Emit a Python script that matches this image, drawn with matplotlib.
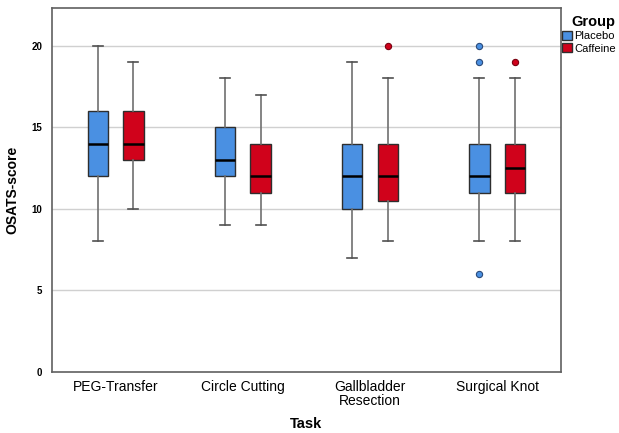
import numpy as np
import matplotlib.pyplot as plt
from matplotlib.patches import Patch

plt.rcParams['font.family'] = ['Liberation Sans', 'DejaVu Sans']

# values
tasks = ['PEG-Transfer', 'Circle Cutting', 'Gallbladder\nResection', 'Surgical Knot']
groups = ['Placebo', 'Caffeine']
colors = ['#4a90e2', '#d0021b']

placebo_whislo = [8, 9, 7, 8]
placebo_q1 = [12, 12, 10, 11]
placebo_med = [14, 13, 12, 12]
placebo_q3 = [16, 15, 14, 14]
placebo_whishi = [20, 18, 19, 18]
placebo_fliers = [[], [], [], [20, 19, 6]]

caffeine_whislo = [10, 9, 8, 8]
caffeine_q1 = [13, 11, 10.5, 11]
caffeine_med = [14, 12, 12, 12.5]
caffeine_q3 = [16, 14, 14, 14]
caffeine_whishi = [19, 17, 18, 18]
caffeine_fliers = [[], [], [20], [19]]


def make_stats(lo, q1, med, q3, hi, fl):
    return [dict(whislo=lo[i], q1=q1[i], med=med[i], q3=q3[i], whishi=hi[i], fliers=fl[i])
            for i in range(len(lo))]


stats = [
    make_stats(placebo_whislo, placebo_q1, placebo_med, placebo_q3, placebo_whishi, placebo_fliers),
    make_stats(caffeine_whislo, caffeine_q1, caffeine_med, caffeine_q3, caffeine_whishi, caffeine_fliers),
]

fig = plt.figure(figsize=(6.19, 4.33), dpi=100)
ax = fig.add_axes([0.084, 0.141, 0.822, 0.840])

x = np.arange(len(tasks))
offsets = [-0.14, 0.14]
edge_cols = ['#2a4a7a', '#7a0010']
for g in range(2):
    ax.bxp(stats[g], positions=x + offsets[g], widths=0.16, patch_artist=True,
           showfliers=True,
           boxprops=dict(facecolor=colors[g], edgecolor='#2e2e2e', linewidth=1.0),
           medianprops=dict(color='black', linewidth=1.8),
           whiskerprops=dict(color='#707070', linewidth=1.2),
           capprops=dict(color='#505050', linewidth=1.2),
           capwidths=0.08,
           flierprops=dict(marker='o', markerfacecolor=colors[g], markeredgecolor=edge_cols[g],
                           markersize=4.5, markeredgewidth=0.8),
           zorder=3)

ax.set_xlim(-0.5, 3.5)
ax.set_ylim(0, 22.3)
ax.set_xticks(x)
ax.set_xticklabels(tasks, fontsize=10, linespacing=1.0)
ax.set_yticks([0, 5, 10, 15, 20])
ax.set_yticklabels(['0', '5', '10', '15', '20'], fontsize=7, fontweight='bold')
ax.tick_params(axis='y', length=0, pad=7)
ax.tick_params(axis='x', length=0, pad=6)
for v in [5, 10, 15, 20]:
    ax.axhline(v, color='#d0d0d0', linewidth=1.0, zorder=0)
for s in ax.spines.values():
    s.set_color('#606060')
    s.set_linewidth(1.2)

ax.set_ylabel('OSATS-score', fontsize=10, fontweight='bold', labelpad=9)
ax.set_xlabel('Task', fontsize=10.5, fontweight='bold', labelpad=6)

handles = [Patch(facecolor=colors[i], edgecolor='#2e2e2e', label=groups[i]) for i in range(2)]
leg = ax.legend(handles=handles, title='Group', loc='upper left', bbox_to_anchor=(1.0, 0.985),
                frameon=False, fontsize=8, title_fontproperties=dict(weight='bold', size=10.5),
                handlelength=0.9, handleheight=0.9, handletextpad=0.15, borderaxespad=0.05,
                borderpad=0.1, labelspacing=0.15)
leg._legend_box.align = 'right'

fig.savefig('out.png', dpi=100)
